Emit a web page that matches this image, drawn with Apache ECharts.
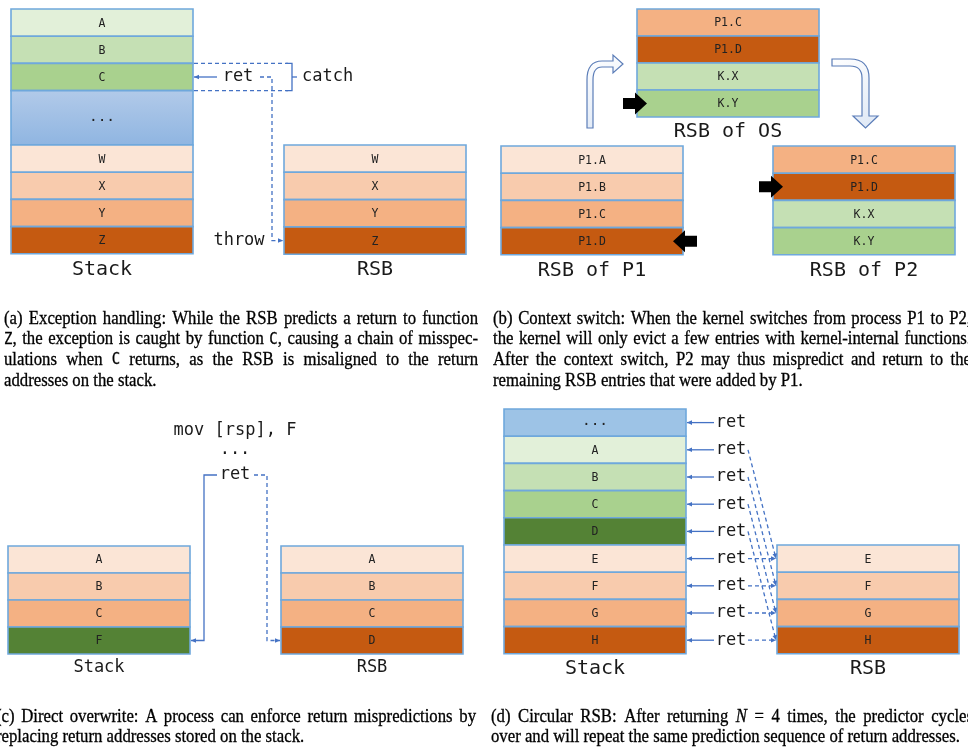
<!DOCTYPE html>
<html>
<head>
<meta charset="utf-8">
<title>RSB misprediction scenarios</title>
<script src="https://cdn.jsdelivr.net/npm/echarts@6/dist/echarts.min.js"></script>
<style>html,body{margin:0;padding:0;background:#fff;overflow:hidden}#main{width:968px;height:751px}</style>
</head>
<body>
<div id="main"></div>
<script>
// ================= DATA =================
const stackA = ['A', 'B', 'C', '...', 'W', 'X', 'Y', 'Z'];
const rsbA = ['W', 'X', 'Y', 'Z'];
const rsbOS = ['P1.C', 'P1.D', 'K.X', 'K.Y'];
const rsbP1 = ['P1.A', 'P1.B', 'P1.C', 'P1.D'];
const rsbP2 = ['P1.C', 'P1.D', 'K.X', 'K.Y'];
const stackC = ['A', 'B', 'C', 'F'];
const rsbC = ['A', 'B', 'C', 'D'];
const stackD = ['...', 'A', 'B', 'C', 'D', 'E', 'F', 'G', 'H'];
const rsbD = ['E', 'F', 'G', 'H'];
const predictD = [null, 'E', 'F', 'G', 'H', 'E', 'F', 'G', 'H']; // RSB entry predicted for each ret in (d)
const codeC = ['mov [rsp], F', '...', 'ret'];

const captionA = [
  '(a) Exception handling: While the RSB predicts a return to function',
  '`Z`, the exception is caught by function `C`, causing a chain of misspec-',
  'ulations when `C` returns, as the RSB is misaligned to the return',
  'addresses on the stack.'
];
const captionB = [
  '(b) Context switch: When the kernel switches from process P1 to P2,',
  'the kernel will only evict a few entries with kernel-internal functions.',
  'After the context switch, P2 may thus mispredict and return to the',
  'remaining RSB entries that were added by P1.'
];
const captionC = [
  '(c) Direct overwrite: A process can enforce return mispredictions by',
  'replacing return addresses stored on the stack.'
];
const captionD = [
  '(d) Circular RSB: After returning *N* = 4 times, the predictor cycles',
  'over and will repeat the same prediction sequence of return addresses.'
];

// ================= STYLE =================
const PAL = {
  g1: '#e2f0d9', g2: '#c5e0b4', g3: '#a9d18e', g4: '#548235', blue: '#9dc3e6',
  o1: '#fbe5d6', o2: '#f8cbad', o3: '#f4b183', o4: '#c55a11'
};
const BORDER = '#6fa8dc';
const LINE = '#4472c4';
const MONO = '"DejaVu Sans Mono", "Liberation Mono", monospace';
const SERIF = '"Liberation Serif", "DejaVu Serif", serif';

const shadeStackA = ['g1', 'g2', 'g3', 'grad', 'o1', 'o2', 'o3', 'o4'];
const spanStackA = [1, 1, 1, 2, 1, 1, 1, 1];
const shadeRsbA = ['o1', 'o2', 'o3', 'o4'];
const shadeOS = ['o3', 'o4', 'g2', 'g3'];
const shadeP1 = ['o1', 'o2', 'o3', 'o4'];
const shadeP2 = ['o3', 'o4', 'g2', 'g3'];
const shadeStackC = ['o1', 'o2', 'o3', 'g4'];
const shadeRsbC = ['o1', 'o2', 'o3', 'o4'];
const shadeStackD = ['blue', 'g1', 'g2', 'g3', 'g4', 'o1', 'o2', 'o3', 'o4'];
const shadeRsbD = ['o1', 'o2', 'o3', 'o4'];

// ================= LAYOUT =================
const BOX_W = 182;
const boxes = {
  stackA: { items: stackA, shades: shadeStackA, spans: spanStackA, x: 11, y: 9, rh: 27.2, title: 'Stack', tx: 102, ty: 270, ts: 20 },
  rsbA: { items: rsbA, shades: shadeRsbA, x: 284, y: 145, rh: 27.3, title: 'RSB', tx: 375, ty: 270, ts: 20 },
  rsbOS: { items: rsbOS, shades: shadeOS, x: 637, y: 9, rh: 27, title: 'RSB of OS', tx: 728, ty: 132, ts: 20 },
  rsbP1: { items: rsbP1, shades: shadeP1, x: 501, y: 146, rh: 27.2, title: 'RSB of P1', tx: 592, ty: 271, ts: 20 },
  rsbP2: { items: rsbP2, shades: shadeP2, x: 773, y: 146, rh: 27.2, title: 'RSB of P2', tx: 864, ty: 271, ts: 20 },
  stackC: { items: stackC, shades: shadeStackC, x: 8, y: 546, rh: 27, title: 'Stack', tx: 99, ty: 668, ts: 17 },
  rsbC: { items: rsbC, shades: shadeRsbC, x: 281, y: 546, rh: 27, title: 'RSB', tx: 372, ty: 668, ts: 17 },
  stackD: { items: stackD, shades: shadeStackD, x: 504, y: 409, rh: 27.2, title: 'Stack', tx: 595, ty: 669, ts: 20 },
  rsbD: { items: rsbD, shades: shadeRsbD, x: 777, y: 545, rh: 27.2, title: 'RSB', tx: 868, ty: 669, ts: 20 }
};

// build cells from the data arrays
const cells = [];
const rowCenter = {};
Object.keys(boxes).forEach(k => {
  const b = boxes[k];
  let y = b.y;
  rowCenter[k] = [];
  b.items.forEach((lab, i) => {
    const h = b.rh * ((b.spans && b.spans[i]) || 1);
    cells.push({ label: lab, shade: b.shades[i], value: [b.x, y, b.x + BOX_W, y + h] });
    rowCenter[k].push(y + h / 2);
    y += h;
  });
});

// text labels
const texts = [];
Object.keys(boxes).forEach(k => {
  const b = boxes[k];
  texts.push({ t: b.title, x: b.tx, y: b.ty, s: b.ts });
});
const yC_A = rowCenter.stackA[stackA.indexOf('C')];
const yZ_A = rowCenter.rsbA[rsbA.indexOf('Z')];
texts.push({ t: 'ret', x: 238, y: yC_A, s: 17 });
texts.push({ t: 'catch', x: 302, y: yC_A, s: 17, align: 'left' });
texts.push({ t: 'throw', x: 239, y: yZ_A, s: 17 });
const codeY = [431, 450, 475];
codeC.forEach((t, i) => texts.push({ t: t, x: 235, y: codeY[i], s: 17 }));
stackD.forEach((_, i) => texts.push({ t: 'ret', x: 731, y: rowCenter.stackD[i], s: 17 }));

// connectors
const conns = [];
// (a)
const aR = boxes.stackA.x + BOX_W;
const aTop = yC_A - boxes.stackA.rh / 2, aBot = yC_A + boxes.stackA.rh / 2;
conns.push({ pts: [[217, yC_A], [aR + 1, yC_A]], arrow: true });
conns.push({ pts: [[260, yC_A], [272, yC_A], [272, yZ_A], [boxes.rsbA.x - 1, yZ_A]], dash: true, arrow: true });
conns.push({ pts: [[aR + 1, aTop], [288, aTop]], dash: true });
conns.push({ pts: [[aR + 1, aBot], [288, aBot]], dash: true });
conns.push({ pts: [[286, aTop], [292, aTop], [292, aBot], [286, aBot]] });
conns.push({ pts: [[292, yC_A], [297, yC_A]] });
// (c)
const yF_C = rowCenter.stackC[stackC.length - 1];
const yD_C = rowCenter.rsbC[rsbC.length - 1];
conns.push({ pts: [[217, 475], [204, 475], [204, yF_C], [boxes.stackC.x + BOX_W + 1, yF_C]], arrow: true });
conns.push({ pts: [[254, 475], [267, 475], [267, yD_C], [boxes.rsbC.x - 1, yD_C]], dash: true, arrow: true });
// (d)
stackD.forEach((_, i) => {
  const y = rowCenter.stackD[i];
  conns.push({ pts: [[714, y], [boxes.stackD.x + BOX_W + 1, y]], arrow: true });
  if (predictD[i]) {
    const j = rsbD.indexOf(predictD[i]);
    conns.push({ pts: [[748, y], [boxes.rsbD.x - 1, rowCenter.rsbD[j]]], dash: true, arrow: true });
  }
});

// decorative shapes (panel b arrows)
function blockArrow(x0, x1, y) { // from tail x0 to tip x1
  const d = x1 > x0 ? 1 : -1, neck = x0 + d * 12;
  return [['M', x0, y - 5.5], ['L', neck, y - 5.5], ['L', neck, y - 11], ['L', x1, y], ['L', neck, y + 11], ['L', neck, y + 5.5], ['L', x0, y + 5.5], ['Z']];
}
const shapes = [
  { cmds: [['M', 587, 128], ['L', 587, 80], ['Q', 587, 61, 602, 61], ['L', 613, 61], ['L', 613, 55], ['L', 623, 64], ['L', 613, 73], ['L', 613, 67], ['L', 602, 67], ['Q', 593, 67, 593, 80], ['L', 593, 128], ['Z']], hollow: true },
  { cmds: [['M', 832, 59], ['L', 850, 59], ['Q', 869, 59, 869, 78], ['L', 869, 116], ['L', 878, 116], ['L', 865.5, 128], ['L', 853, 116], ['L', 862, 116], ['L', 862, 78], ['Q', 862, 66, 850, 66], ['L', 832, 66], ['Z']], hollow: true },
  { cmds: blockArrow(623, 647, rowCenter.rsbOS[3]) },
  { cmds: blockArrow(759, 783, rowCenter.rsbP2[1]) },
  { cmds: blockArrow(697, 673, rowCenter.rsbP1[3]) }
];

// ================= CHART =================
const chart = echarts.init(document.getElementById('main'), null, { renderer: 'canvas' });

function renderCell(params, api) {
  const c = cells[params.dataIndex];
  const p0 = api.coord([api.value(0), api.value(1)]);
  const p1 = api.coord([api.value(2), api.value(3)]);
  const fill = c.shade === 'grad'
    ? new echarts.graphic.LinearGradient(0, 0, 0, 1, [{ offset: 0, color: '#b2cae9' }, { offset: 1, color: '#8fb5e1' }])
    : PAL[c.shade];
  const dots = c.label === '...';
  return {
    type: 'group', children: [
      { type: 'rect', shape: { x: p0[0], y: p0[1], width: p1[0] - p0[0], height: p1[1] - p0[1] }, style: { fill: fill, stroke: BORDER, lineWidth: 1.6 } },
      { type: 'text', style: { text: c.label, x: (p0[0] + p1[0]) / 2, y: (p0[1] + p1[1]) / 2 + (dots ? -1 : 1), align: 'center', verticalAlign: 'middle', fontSize: dots ? 14.5 : 11.5, fontFamily: MONO, fill: '#222' } }
    ]
  };
}
function renderText(params, api) {
  const t = texts[params.dataIndex];
  const p = api.coord([api.value(0), api.value(1)]);
  return { type: 'text', style: { text: t.t, x: p[0], y: p[1], align: t.align || 'center', verticalAlign: 'middle', fontSize: t.s, fontFamily: MONO, fill: '#1a1a1a' } };
}
function renderConn(params, api) {
  const c = conns[params.dataIndex];
  const pts = c.pts.map(p => api.coord(p));
  const ch = [{ type: 'polyline', shape: { points: pts }, style: { stroke: LINE, lineWidth: 1.3, fill: null, lineDash: c.dash ? [4, 3] : null } }];
  if (c.arrow) {
    const a = pts[pts.length - 2], b = pts[pts.length - 1];
    const dx = b[0] - a[0], dy = b[1] - a[1], L = Math.hypot(dx, dy) || 1;
    const ux = dx / L, uy = dy / L, len = 5, hw = 2.3;
    const bx = b[0] - ux * len, by = b[1] - uy * len;
    ch.push({ type: 'polygon', shape: { points: [b, [bx - uy * hw, by + ux * hw], [bx + uy * hw, by - ux * hw]] }, style: { fill: LINE } });
  }
  return { type: 'group', children: ch };
}
function renderShape(params, api) {
  const s = shapes[params.dataIndex];
  let d = '';
  s.cmds.forEach(c => {
    if (c[0] === 'Z') { d += 'Z '; return; }
    d += c[0];
    for (let i = 1; i < c.length; i += 2) { const p = api.coord([c[i], c[i + 1]]); d += ' ' + p[0] + ' ' + p[1]; }
    d += ' ';
  });
  const style = s.hollow
    ? { fill: new echarts.graphic.LinearGradient(0, 0, 1, 1, [{ offset: 0, color: '#ffffff' }, { offset: 1, color: '#dde7f5' }]), stroke: '#5b7db8', lineWidth: 1.2 }
    : { fill: '#000' };
  return { type: 'path', shape: { pathData: d }, style: style };
}

// captions laid out with justification (condensed serif look)
const mctx = document.createElement('canvas').getContext('2d');
const CAP_SIZE = 18;
const CAP_SX = 0.93;
function fontOf(kind) {
  if (kind === 'code') return { fontSize: 15, fontFamily: MONO, fontStyle: 'normal' };
  if (kind === 'ital') return { fontSize: CAP_SIZE, fontFamily: SERIF, fontStyle: 'italic' };
  return { fontSize: CAP_SIZE, fontFamily: SERIF, fontStyle: 'normal' };
}
function measure(seg) {
  const f = fontOf(seg.kind);
  mctx.font = f.fontStyle + ' ' + f.fontSize + 'px ' + f.fontFamily;
  return mctx.measureText(seg.t).width * CAP_SX;
}
function parseWord(w) {
  const segs = [], re = /`([^`]*)`|\*([^*]*)\*|([^`*]+)/g;
  let m;
  while ((m = re.exec(w))) {
    if (m[1] !== undefined) segs.push({ t: m[1], kind: 'code' });
    else if (m[2] !== undefined) segs.push({ t: m[2], kind: 'ital' });
    else segs.push({ t: m[3], kind: 'rm' });
  }
  return segs;
}
const graphics = [];
function addCaption(lines, x0, x1, y0, lh) {
  lines.forEach((line, li) => {
    const words = line.split(' ').map(parseWord);
    const widths = words.map(ws => ws.reduce((s, g) => s + measure(g), 0));
    const total = widths.reduce((a, b) => a + b, 0);
    const justify = li < lines.length - 1;
    mctx.font = CAP_SIZE + 'px ' + SERIF;
    const gap = justify ? (x1 - x0 - total) / (words.length - 1) : mctx.measureText(' ').width * CAP_SX;
    let x = x0;
    const y = y0 + li * lh;
    words.forEach((ws) => {
      ws.forEach(g => {
        const f = fontOf(g.kind);
        graphics.push({ type: 'text', x: x, y: y, scaleX: CAP_SX, silent: true, style: { text: g.t, fontSize: f.fontSize, fontFamily: f.fontFamily, fontStyle: f.fontStyle, fill: '#000', stroke: '#000', lineWidth: 0.3, verticalAlign: 'middle', align: 'left' } });
        x += measure(g);
      });
      x += gap;
    });
  });
}
addCaption(captionA, 4, 478, 319, 20.7);
addCaption(captionB, 493, 971, 319, 20.7);
addCaption(captionC, -4, 476, 717, 20.7);
addCaption(captionD, 491, 973, 717, 20.7);

const option = {
  animation: false,
  backgroundColor: '#fff',
  grid: { left: 0, right: 0, top: 0, bottom: 0 },
  xAxis: { type: 'value', min: 0, max: 968, show: false },
  yAxis: { type: 'value', min: 0, max: 751, inverse: true, show: false },
  graphic: graphics,
  series: [
    { type: 'custom', name: 'shapes', renderItem: renderShape, data: shapes.map(s => [s.cmds[0][1], s.cmds[0][2]]), encode: { x: 0, y: 1 }, z: 3 },
    { type: 'custom', name: 'cells', renderItem: renderCell, data: cells.map(c => c.value), encode: { x: [0, 2], y: [1, 3] }, z: 2 },
    { type: 'custom', name: 'connectors', renderItem: renderConn, data: conns.map(c => c.pts[c.pts.length - 1]), encode: { x: 0, y: 1 }, z: 4 },
    { type: 'custom', name: 'texts', renderItem: renderText, data: texts.map(t => [t.x, t.y]), encode: { x: 0, y: 1 }, z: 5 }
  ]
};
chart.setOption(option);
</script>
</body>
</html>
